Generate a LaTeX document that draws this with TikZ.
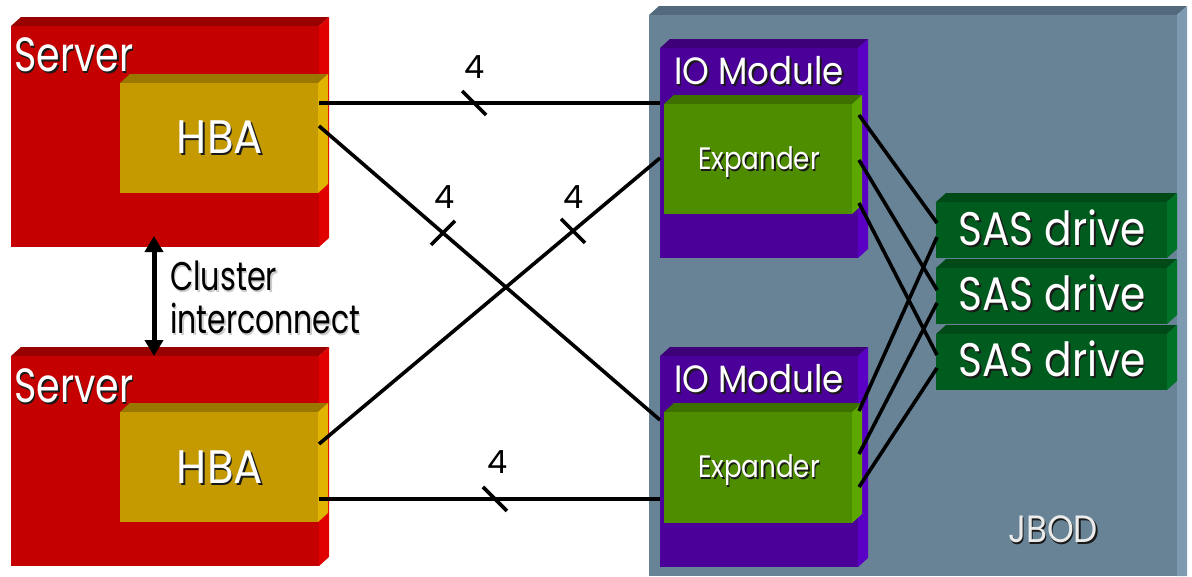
\documentclass[tikz,border=0pt]{standalone}
\usepackage{fontspec}
\setmainfont{Poppins}
\usetikzlibrary{calc,arrows.meta}
\definecolor{srvfront}{HTML}{C40000}
\definecolor{srvtop}{HTML}{990000}
\definecolor{srvside}{HTML}{E00000}
\definecolor{hbafront}{HTML}{C49A00}
\definecolor{hbatop}{HTML}{9A7800}
\definecolor{hbaside}{HTML}{E0B400}
\definecolor{jbfront}{HTML}{688396}
\definecolor{jbtop}{HTML}{526A7C}
\definecolor{jbside}{HTML}{7D9AB0}
\definecolor{iofront}{HTML}{4B0099}
\definecolor{iotop}{HTML}{3D0078}
\definecolor{ioside}{HTML}{5A00C4}
\definecolor{exfront}{HTML}{4E8C00}
\definecolor{extop}{HTML}{3E7000}
\definecolor{exside}{HTML}{5CA800}
\definecolor{sasfront}{HTML}{005C1E}
\definecolor{sastop}{HTML}{004A18}
\definecolor{sasside}{HTML}{007228}
\definecolor{shadowcol}{HTML}{1A1A1A}
\newcommand\slab[5]{%
  \fill[#5top] (#1,#2) -- (#1+10,#2-9) -- (#3+10,#2-9) -- (#3,#2) -- cycle;
  \fill[#5side] (#3,#2) -- (#3+10,#2-9) -- (#3+10,#4-9) -- (#3,#4) -- cycle;
  \fill[#5front] (#1,#2) rectangle (#3,#4);}
\newcommand\shd[2][shadowcol]{\makebox[0pt][l]{\hspace*{2pt}\raisebox{-2pt}{\textcolor{#1}{#2}}}#2}
\newcommand\fitw[2]{\resizebox{#1pt}{\height}{#2}}
\tikzset{
  lbl/.style={inner sep=0pt, anchor=base, text=white},
  link/.style={line width=3.6pt, line cap=butt},
  tickmark/.style={line width=3.6pt},
  num/.style={inner sep=0pt, anchor=base, text=black, font=\fontsize{32}{34}\selectfont},
}
\begin{document}
\begin{tikzpicture}[x=1pt,y=-1pt]
\useasboundingbox (0,0) rectangle (1192,576);
\fill[white] (0,0) rectangle (1192,576);
% JBOD
\fill[jbtop] (649,15) -- (659,6) -- (1187,6) -- (1177,15) -- cycle;
\fill[jbside] (1177,15) -- (1187,6) -- (1187,576) -- (1177,576) -- cycle;
\fill[jbfront] (649,15) rectangle (1177,576);
\node[lbl, text=white!92!black] (jbod) at (1053,542) {\fontsize{38}{40}\selectfont\fitw{90}{\shd{JBOD}}};
% IO modules and expanders
\slab{660}{48}{858}{258}{io}
\slab{664}{104}{852}{214}{ex}
\slab{660}{356}{858}{567}{io}
\slab{664}{412}{852}{523}{ex}
\node[lbl] (io1) at (759,84) {\fontsize{38}{40}\selectfont\fitw{170}{\shd{IO Module}}};
\node[lbl] (io2) at (759,392) {\fontsize{38}{40}\selectfont\fitw{170}{\shd{IO Module}}};
\node[lbl] (ex1) at (759,169) {\fontsize{31}{33}\selectfont\fitw{122}{\shd{Expander}}};
\node[lbl] (ex2) at (759,477) {\fontsize{31}{33}\selectfont\fitw{122}{\shd{Expander}}};
% SAS drives
\slab{936}{202}{1167}{258}{sas}
\slab{936}{268}{1167}{324}{sas}
\slab{936}{334}{1167}{390}{sas}
\node[lbl] (sas1) at (1052,245) {\fontsize{47}{49}\selectfont\fitw{187}{\shd{SAS drive}}};
\node[lbl] (sas2) at (1052,310) {\fontsize{47}{49}\selectfont\fitw{187}{\shd{SAS drive}}};
\node[lbl] (sas3) at (1052,376) {\fontsize{47}{49}\selectfont\fitw{187}{\shd{SAS drive}}};
% Servers and HBAs
\slab{11}{26}{319}{247}{srv}
\slab{120}{83}{318}{193}{hba}
\slab{11}{356}{319}{566}{srv}
\slab{120}{412}{318}{522}{hba}
\node[lbl, anchor=base west] (srv1) at (14,71) {\fontsize{48}{50}\selectfont\fitw{119}{\shd{Server}}};
\node[lbl, anchor=base west] (srv2) at (14,402) {\fontsize{48}{50}\selectfont\fitw{119}{\shd{Server}}};
\node[lbl] (hba1) at (220,153) {\fontsize{47}{49}\selectfont\fitw{86}{\shd{HBA}}};
\node[lbl] (hba2) at (220,483) {\fontsize{47}{49}\selectfont\fitw{86}{\shd{HBA}}};
% cluster interconnect
\coordinate (c1) at (154,236);
\coordinate (c2) at (154,356);
\draw[line width=5pt, {Triangle[length=16pt,width=18pt]}-{Triangle[length=16pt,width=18pt]}] (c1) -- (c2);
\node[lbl, anchor=base west, text=black] (cl1) at (170,290) {\fontsize{40}{42}\selectfont\fitw{107}{\shd[black!20]{Cluster}}};
\node[lbl, anchor=base west, text=black] (cl2) at (170,333) {\fontsize{40}{42}\selectfont\fitw{190}{\shd[black!20]{interconnect}}};
% ports
\coordinate (h1a) at (319,103);
\coordinate (h1b) at (319,126);
\coordinate (h2a) at (319,444);
\coordinate (h2b) at (319,499);
\coordinate (e1a) at (660,103);
\coordinate (e1b) at (660,158);
\coordinate (e2a) at (660,420);
\coordinate (e2b) at (660,499);
\coordinate (e1r1) at (859,115);
\coordinate (e1r2) at (859,160);
\coordinate (e1r3) at (859,203);
\coordinate (e2r1) at (859,411);
\coordinate (e2r2) at (859,454);
\coordinate (e2r3) at (859,487);
\coordinate (d1a) at (937,223);
\coordinate (d1b) at (937,237);
\coordinate (d2a) at (937,290);
\coordinate (d2b) at (937,303);
\coordinate (d3a) at (937,355);
\coordinate (d3b) at (937,368);
% links
\draw[link] (h1a) -- (e1a);
\draw[link] (h1b) -- (e2a);
\draw[link] (h2a) -- (e1b);
\draw[link] (h2b) -- (e2b);
\draw[tickmark] ($(h1a)!0.455!(e1a)$) ++(-12,-12) -- ++(24,24);
\draw[tickmark] ($(h1b)!0.3636!(e2a)$) ++(-12,12) -- ++(24,-24);
\draw[tickmark] ($(h2a)!0.745!(e1b)$) ++(-12,-12) -- ++(24,24);
\draw[tickmark] ($(h2b)!0.516!(e2b)$) ++(-12,-12) -- ++(24,24);
\node[num] (n1) at (474.5,78) {4};
\node[num] (n2) at (445,208) {4};
\node[num] (n3) at (573.5,208) {4};
\node[num] (n4) at (497.5,473) {4};
\draw[link] (e1r1) -- (d1a);
\draw[link] (e1r2) -- (d2a);
\draw[link] (e1r3) -- (d3a);
\draw[link] (e2r1) -- (d1b);
\draw[link] (e2r2) -- (d2b);
\draw[link] (e2r3) -- (d3b);
\end{tikzpicture}
\end{document}
